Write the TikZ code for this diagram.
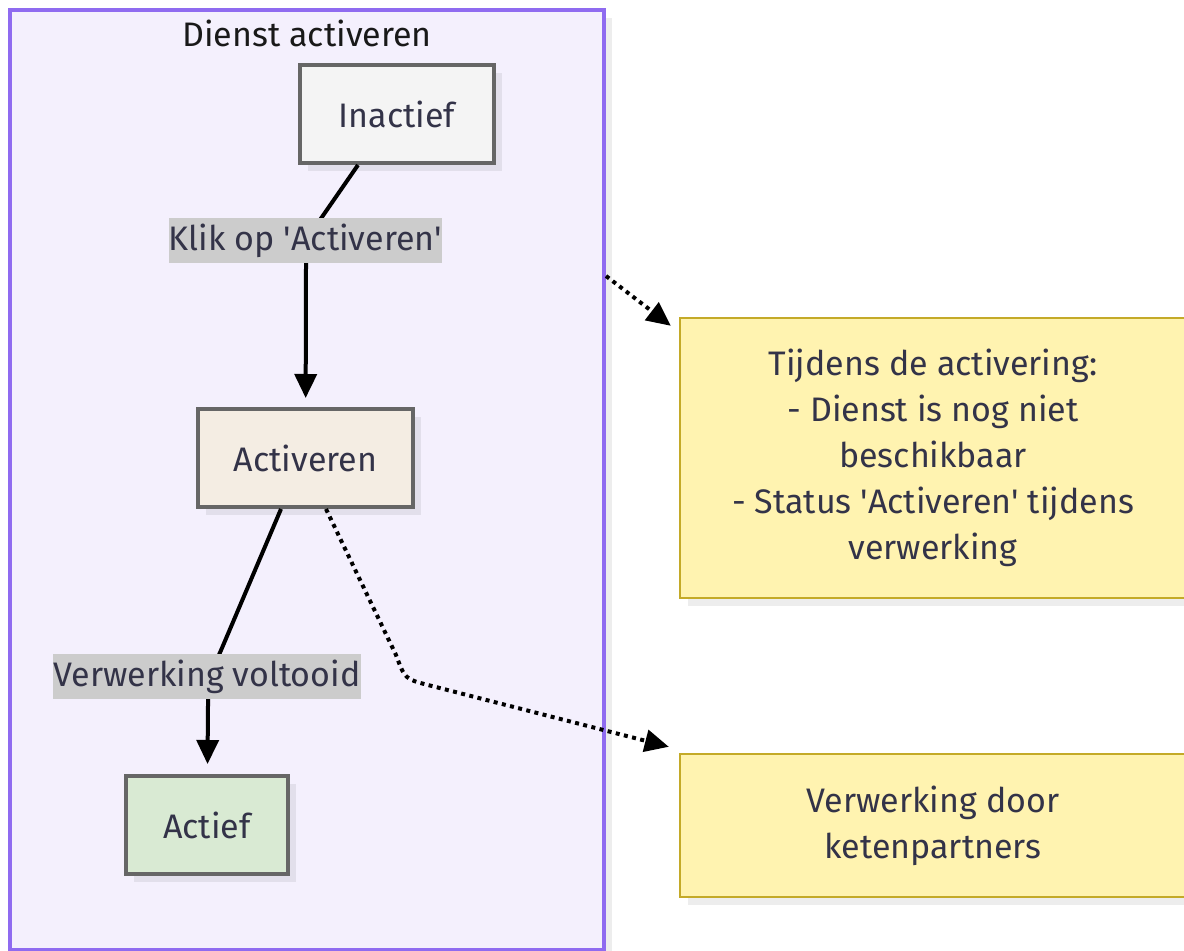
\documentclass[tikz,border=0pt]{standalone}
\usepackage{fontspec}
\setmainfont{Fira Sans}
\usetikzlibrary{
	arrows.meta,
	calc,
	shadows
}
\definecolor{clusterfill}{HTML}{F4F0FD}
\definecolor{clusterline}{HTML}{8F6BF0}
\definecolor{stateline}{HTML}{666666}
\definecolor{inactfill}{HTML}{F4F4F4}
\definecolor{busyfill}{HTML}{F4EDE3}
\definecolor{actfill}{HTML}{D9EAD3}
\definecolor{notefill}{HTML}{FFF3B0}
\definecolor{noteline}{HTML}{C4AA28}
\definecolor{lblfill}{HTML}{CCCCCC}
\definecolor{txt}{HTML}{333348}
\newcommand{\q}{\textquotesingle}
\tikzset{
	every node/.style={
		font=\fontsize{17}{23}\selectfont,
		text=txt
	},
	softshadow/.style={
		drop shadow={shadow xshift=4pt,shadow yshift=-4pt,fill=black,opacity=.07}
	},
	state/.style={
		draw=stateline,
		line width=2pt,
		minimum height=49pt,
		inner sep=0pt,
		softshadow
	},
	note/.style={
		draw=noteline,
		fill=notefill,
		line width=1.2pt,
		align=center,
		inner sep=0pt,
		softshadow
	},
	lbl/.style={
		fill=lblfill,
		inner sep=0pt,
		minimum height=22.5pt
	},
	flow/.style={
		line width=2pt,
		-{Triangle[length=12pt,width=11pt]}
	},
	dotflow/.style={
		line width=2pt,
		dash pattern=on 2pt off 2.2pt,
		-{Triangle[length=12pt,width=11pt]}
	}
}

\begin{document}
\begin{tikzpicture}[x=0.5pt,y=-0.5pt]
	\useasboundingbox (0,0) rectangle (1184,951);

	% group
	\node[draw=clusterline,fill=clusterfill,line width=2pt,inner sep=0pt,
		minimum width=297pt,minimum height=470pt,softshadow]
		(cluster) at (307,480) {};
	\node[text=black!90] (title) at (307,33) {Dienst activeren};

	% states
	\node[state,fill=inactfill,minimum width=97pt]   (inactief)  at (397,114) {Inactief};
	\node[state,fill=busyfill,minimum width=107.5pt] (activeren) at (305.5,458) {Activeren};
	\node[state,fill=actfill,minimum width=81pt]     (actief)    at (207,825) {Actief};

	% notes
	\node[note,minimum width=253pt,minimum height=140pt] (tijdens) at (933,458)
		{Tijdens de activering:\\- Dienst is nog niet\\beschikbaar\\- Status \q Activeren\q{} tijdens\\verwerking};
	\node[note,minimum width=253pt,minimum height=71.5pt] (keten) at (933,825.5)
		{Verwerking door\\ketenpartners};

	% transitions
	\draw[flow,shorten >=4.5pt]
		($(inactief.south west)+(60,0)$) -- (322,217)
		.. controls (306,240) .. (306,268) -- (activeren);
	\node[lbl] (klik) at (305.5,240.5) {Klik op \q Activeren\q};

	\draw[flow,shorten >=5pt]
		($(activeren.south west)+(85,0)$) -- (222,648)
		.. controls (208,680) .. (208,706) -- (actief);
	\node[lbl] (klaar) at (207,676.5) {Verwerking voltooid};

	% links to notes
	\draw[dotflow] ($(cluster.north east)+(0,268)$) -- ($(tijdens.north west)+(-8,9)$);
	\draw[dotflow] ($(activeren.south west)+(130,0)$) -- (396,655)
		.. controls (405,679) .. (428,685) -- ($(keten.north west)+(-10,-6)$);
\end{tikzpicture}
\end{document}
